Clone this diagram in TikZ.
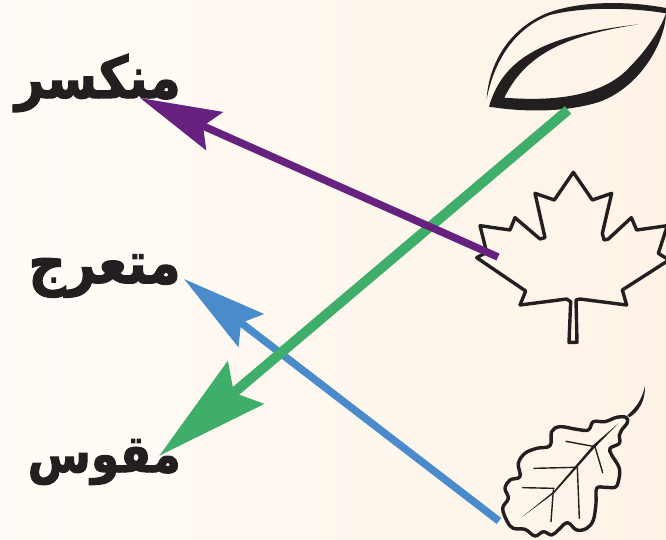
\documentclass[tikz,border=0pt]{standalone}
\usepackage{fontspec}
\usetikzlibrary{arrows.meta}
\newfontfamily\arabicfont[Script=Arabic,BoldFeatures={FakeBold=2}]{DejaVu Sans}
\TeXXeTstate=1
\definecolor{inkblack}{HTML}{231F20}
\definecolor{bendpurple}{HTML}{67217F}
\definecolor{curvegreen}{HTML}{3FAE6A}
\definecolor{zigblue}{HTML}{4A8CCB}
\definecolor{paperleft}{HTML}{FFFCF7}
\definecolor{paperright}{HTML}{FEF3E7}
\tikzset{
  wordlabel/.style={anchor=east,inner sep=0pt,text=inkblack,xscale=.88,transform shape,font=\arabicfont\bfseries\fontsize{#1}{#1}\selectfont},
  leafline/.style={draw=inkblack,line width=3.4pt,line join=round},
  vein/.style={draw=inkblack,line width=1.4pt,line cap=round},
}
\begin{document}
\begin{tikzpicture}[x=1pt,y=-1pt]
\useasboundingbox (0,0) rectangle (666,540);
\shade[left color=paperleft,right color=paperright] (0,0) rectangle (666,540);
% top leaf
\begin{scope}[shift={(470,0)},scale=1/3]
\fill[inkblack] (50,298) .. controls (55,200) and (110,90) .. (230,40) .. controls (320,5) and (460,0) .. (588,24) -- (588,40) .. controls (480,22) and (340,20) .. (240,45) .. controls (130,85) and (70,190) .. (50,298) -- cycle;
\fill[inkblack] (57,320) .. controls (100,170) and (230,105) .. (505,73) .. controls (300,105) and (170,155) .. (103,293) .. controls (250,305) and (400,290) .. (480,200) .. controls (530,150) and (570,90) .. (588,40) .. controls (585,130) and (510,260) .. (390,305) .. controls (280,340) and (150,335) .. (57,320) -- cycle;
\end{scope}
% maple leaf
\begin{scope}[shift={(470,165)},scale=1/3]
\draw[leafline] (310,22) -- (367,105) -- (425,85) -- (397,205) -- (402,225) -- (415,222) -- (484,158) -- (500,195) -- (592,182) -- (565,265) -- (597,285) -- (457,375) -- (470,420) -- (330,402) -- (318,405) -- (321,532) -- (297,532) -- (302,410) -- (290,402) -- (150,420) -- (167,378) -- (20,278) -- (50,262) -- (30,182) -- (120,195) -- (135,158) -- (210,222) -- (225,218) -- (195,85) -- (253,105) -- cycle;
\end{scope}
% oak leaf
\begin{scope}[shift={(490,380)},scale=1/3]
\draw[leafline] plot[smooth cycle,tension=.6] coordinates {(408,112) (412,128) (395,150) (388,165) (388,190) (360,205) (365,225) (388,265) (385,305) (375,322) (345,322) (320,325) (318,370) (310,420) (290,445) (260,450) (232,428) (205,450) (185,465) (160,455) (135,468) (105,448) (70,445) (52,425) (38,385) (55,355) (45,325) (60,300) (90,290) (85,250) (105,220) (140,205) (180,197) (185,155) (210,140) (260,148) (295,150) (310,125) (345,125) (380,112)};
\fill[inkblack] (412,106) .. controls (436,85) and (456,60) .. (465,18) .. controls (466,60) and (448,95) .. (418,112) -- cycle;
\fill[inkblack] (95,412) -- (190,335) -- (310,195) -- (385,130) -- (314,203) -- (193,339) -- cycle;
\foreach \ax/\ay/\bx/\by in {228/184/315/200,132/265/255/262,98/323/192/325,183/425/190/330,268/415/262/262,338/278/315/200}
  \draw[vein] (\ax,\ay) -- (\bx,\by);
\end{scope}
% labels
\node[wordlabel=58] (brokenword) at (181,83) {\beginR منكسر\endR};
\node[wordlabel=59] (zigzagword) at (181,276) {\beginR متعرج\endR};
\node[wordlabel=52] (curvedword) at (181,462) {\beginR مقوس\endR};
% ends of the arrows
\coordinate (broketip) at (140,98);
\coordinate (zigtip) at (184,279);
\coordinate (curvetip) at (159,456);
\coordinate (mapleend) at (498,257);
\coordinate (oakend) at (499,521);
\coordinate (topleafend) at (568,110);
\draw[zigblue,line width=7.5pt,-{Stealth[length=84pt,width=41pt,inset=12pt]}] (oakend) -- (zigtip);
\draw[curvegreen,line width=10pt,-{Stealth[length=113pt,width=55pt,inset=15pt]}] (topleafend) -- (curvetip);
\draw[bendpurple,line width=7.5pt,-{Stealth[length=81pt,width=41pt,inset=12pt]}] (mapleend) -- (broketip);
\end{tikzpicture}
\end{document}
